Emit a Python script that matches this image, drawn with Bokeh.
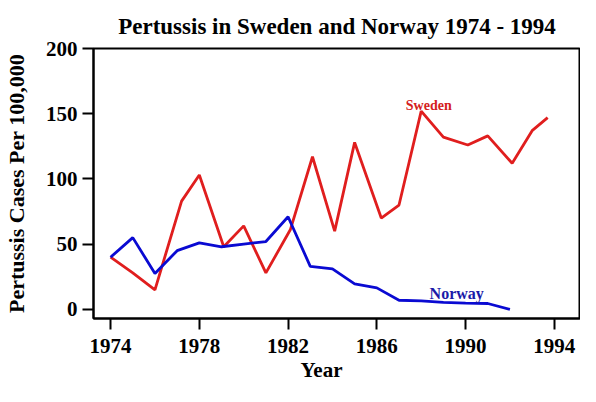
from bokeh.plotting import figure
from bokeh.models import Label, Range1d, FixedTicker, Title
from bokeh.embed import file_html
from bokeh.resources import INLINE

# Pertussis cases per 100,000
sweden_years = [1974, 1975, 1976, 1977.2, 1978, 1979.1, 1980, 1981, 1982.1, 1983.1,
                1984.1, 1985, 1986.2, 1987, 1988, 1989, 1990.1, 1991, 1992.1, 1993, 1993.7]
sweden_cases = [40, 28, 15, 83, 103, 48, 64, 28, 61, 117,
                60, 128, 70, 80, 152, 132, 126, 133, 112, 137, 147]

norway_years = [1974, 1975, 1976, 1977, 1978, 1979, 1980, 1981, 1982, 1983,
                1984, 1985, 1986, 1987, 1988, 1989, 1990, 1991, 1992]
norway_cases = [40, 55, 27.5, 45, 51, 48, 50, 52, 71, 33,
                31, 19.5, 16.5, 7, 6.5, 5.3, 4.8, 4.5, 0]

x_ticks = [1974, 1978, 1982, 1986, 1990, 1994]
y_ticks = [0, 50, 100, 150, 200]

FONT = "Liberation Serif"
RED = "#e01e1e"
BLUE = "#0a0ad2"

p = figure(width=580, height=386, output_backend="svg", toolbar_location=None,
           x_range=Range1d(1973.23, 1995.18), y_range=Range1d(-7, 200),
           min_border_left=93, min_border_right=0, min_border_top=48, min_border_bottom=68)

p.title.text = "Pertussis in Sweden and Norway 1974 - 1994"
p.title.align = "center"
p.title.text_font = FONT
p.title.text_font_size = "23px"
p.title.text_font_style = "bold"
p.title.text_color = "black"
p.title.standoff = 20

# x axis title, set a bit left of centre as in the original
p.add_layout(Title(text="Year", align="left", offset=207, text_font=FONT,
                   text_font_size="21px", text_font_style="bold", text_color="black",
                   standoff=0), "below")

p.line(sweden_years, sweden_cases, line_color=RED, line_width=2.8)
p.line(norway_years, norway_cases, line_color=BLUE, line_width=2.8)

p.xgrid.grid_line_color = None
p.ygrid.grid_line_color = None
p.outline_line_color = "black"
p.outline_line_width = 2
p.background_fill_color = "white"
p.border_fill_color = "white"

for ax in (p.xaxis[0], p.yaxis[0]):
    ax.axis_line_color = "black"
    ax.axis_line_width = 2
    ax.major_tick_line_width = 2
    ax.major_tick_in = 0
    ax.major_tick_out = 11
    ax.minor_tick_line_color = None
    ax.major_label_text_font = FONT
    ax.major_label_text_font_style = "bold"
    ax.major_label_text_font_size = "21px"
    ax.major_label_text_color = "black"

p.xaxis.ticker = FixedTicker(ticks=x_ticks)
p.yaxis.ticker = FixedTicker(ticks=y_ticks)
p.xaxis.major_label_standoff = 9
p.yaxis.major_label_standoff = 5

p.yaxis.axis_label = "Pertussis Cases Per 100,000"
p.yaxis.axis_label_text_font = FONT
p.yaxis.axis_label_text_font_style = "bold"
p.yaxis.axis_label_text_font_size = "22px"
p.yaxis.axis_label_text_color = "black"
p.yaxis.axis_label_standoff = 14

p.add_layout(Label(x=1988.34, y=156, text="Sweden", text_font=FONT, text_font_style="bold",
                   text_font_size="14px", text_align="center", text_baseline="alphabetic",
                   text_color="#d42020"))
p.add_layout(Label(x=1989.6, y=12.2, text="Norway", text_font=FONT, text_font_style="bold",
                   text_font_size="16px", text_align="center", text_baseline="alphabetic",
                   text_color="#1a1aa8"))

open("out.html", "w").write(file_html(p, INLINE))
